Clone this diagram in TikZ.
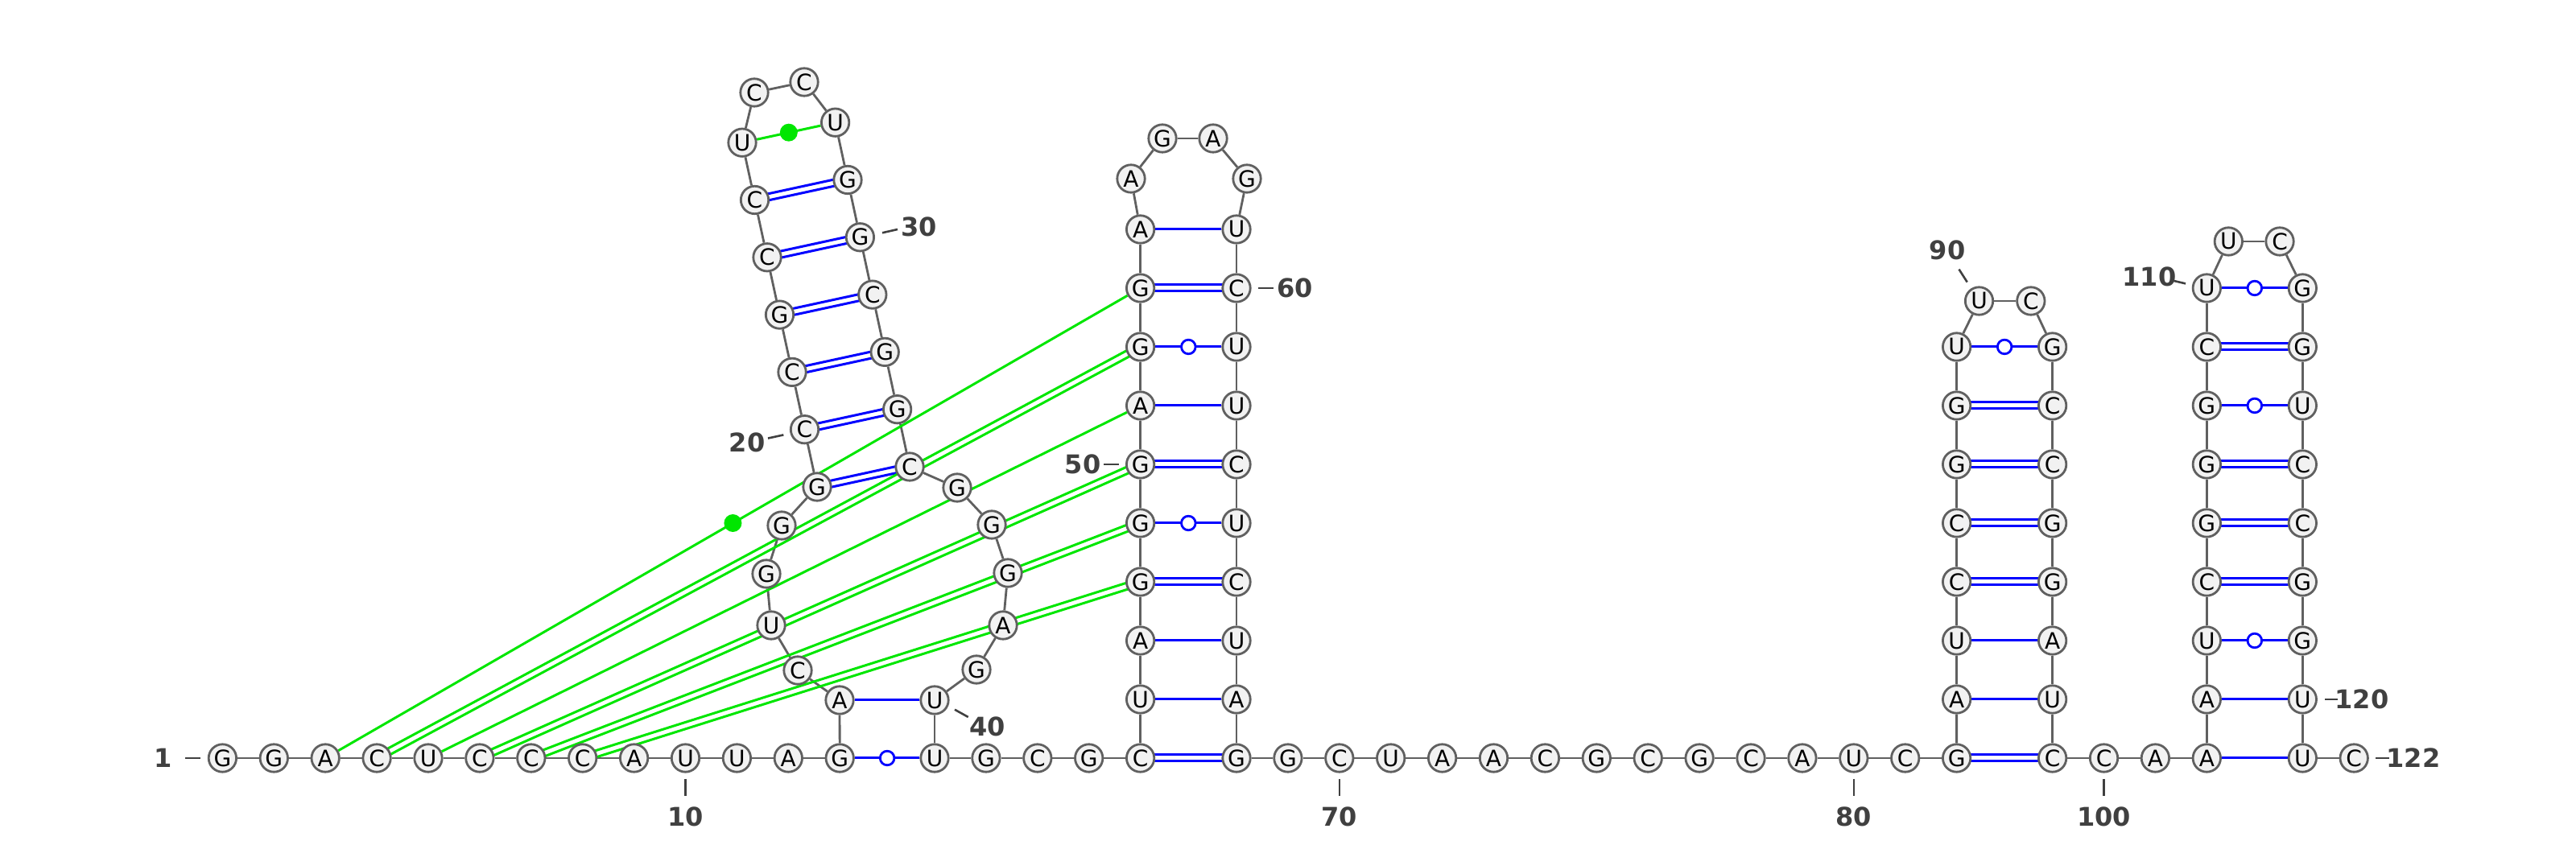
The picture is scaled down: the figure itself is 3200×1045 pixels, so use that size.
\documentclass[tikz,border=0pt]{standalone}
\usepackage{fontspec}
\setmainfont{DejaVu Sans}
\usetikzlibrary{calc,backgrounds}
\definecolor{ntfill}{HTML}{F2F2F2}
\definecolor{ntline}{HTML}{606060}
\definecolor{lbl}{HTML}{404040}
\definecolor{pkgreen}{RGB}{0,230,0}
\tikzset{
  nt/.style={circle, draw=ntline, line width=.7pt, fill=ntfill, minimum size=8.6pt,
    inner sep=0pt, font=\fontsize{7}{7}\selectfont},
  bb/.style={draw=ntline, line width=.7pt},
  bp/.style={blue, line width=.75pt},
  pk/.style={pkgreen, line width=.75pt},
  wob/.style={circle, draw=blue, fill=white, line width=.7pt, minimum size=4.4pt, inner sep=0pt},
  pkdot/.style={circle, fill=pkgreen, minimum size=5.5pt, inner sep=0pt},
  num/.style={text=lbl, font=\fontsize{8}{9}\selectfont\bfseries, inner sep=0pt},
  lead/.style={draw=lbl, line width=.65pt}
}
\begin{document}
\begin{tikzpicture}[x=.25pt, y=-.25pt]
\useasboundingbox (0,0) rectangle (3200,1045);
% 5' strand
\foreach \i/\b in {1/G,2/G,3/A,4/C,5/U,6/C,7/C,8/C,9/A,10/U,11/U,12/A,13/G}
  \node[nt] (n\i) at ({276.4+63.9*(\i-1)},942) {\b};
% first domain
\foreach \i/\b/\x/\y in {14/A/1043/870,15/C/991/833,16/U/958/777,17/G/952/713,18/G/971/653}
  \node[nt] (n\i) at (\x,\y) {\b};
\foreach \i/\b in {19/G,20/C,21/C,22/G,23/C,24/C,25/U}
  \node[nt] (n\i) at ({1015-15.5*(\i-19)},{605-71.3*(\i-19)}) {\b};
\node[nt] (n26) at (937,115) {C};
\node[nt] (n27) at (999,102) {C};
\foreach \i/\b in {28/U,29/G,30/G,31/C,32/G,33/G,34/C}
  \node[nt] (n\i) at ({1130-15.4*(34-\i)},{580-71.3*(34-\i)}) {\b};
\foreach \i/\b/\x/\y in {35/G/1189/606,36/G/1232/652,37/G/1252/712,38/A/1246/777,39/G/1213/832,40/U/1161/870}
  \node[nt] (n\i) at (\x,\y) {\b};
\foreach \i/\b in {41/U,42/G,43/C,44/G,45/C}
  \node[nt] (n\i) at ({1161+63.9*(\i-41)},942) {\b};
% second hairpin
\foreach \i/\b in {46/U,47/A,48/G,49/G,50/G,51/A,52/G,53/G,54/A}
  \node[nt] (n\i) at (1416.6,{942-73*(\i-45)}) {\b};
\foreach \i/\b/\x/\y in {55/A/1405/222,56/G/1444/172,57/A/1507/172,58/G/1549/222}
  \node[nt] (n\i) at (\x,\y) {\b};
\foreach \i/\b in {59/U,60/C,61/U,62/U,63/C,64/U,65/C,66/U,67/A}
  \node[nt] (n\i) at (1536,{942-73*(68-\i)}) {\b};
\foreach \i/\b in {68/G,69/G,70/C,71/U,72/A,73/A,74/C,75/G,76/C,77/G,78/C,79/A,80/U,81/C,82/G}
  \node[nt] (n\i) at ({1536+63.9*(\i-68)},942) {\b};
% third hairpin
\foreach \i/\b in {83/A,84/U,85/C,86/C,87/G,88/G,89/U}
  \node[nt] (n\i) at (2430.6,{942-73*(\i-82)}) {\b};
\node[nt] (n90) at (2458.5,374) {U};
\node[nt] (n91) at (2522.8,374) {C};
\foreach \i/\b in {92/G,93/C,94/C,95/G,96/G,97/A,98/U}
  \node[nt] (n\i) at (2549.6,{942-73*(99-\i)}) {\b};
\foreach \i/\b in {99/C,100/C,101/A,102/A}
  \node[nt] (n\i) at ({2549.6+63.9*(\i-99)},942) {\b};
% fourth hairpin
\foreach \i/\b in {103/A,104/U,105/C,106/G,107/G,108/G,109/C,110/U}
  \node[nt] (n\i) at (2741.3,{942-73*(\i-102)}) {\b};
\node[nt] (n111) at (2768.3,300) {U};
\node[nt] (n112) at (2832,300) {C};
\foreach \i/\b in {113/G,114/G,115/U,116/C,117/C,118/G,119/G,120/U,121/U}
  \node[nt] (n\i) at (2860.3,{942-73*(121-\i)}) {\b};
\node[nt] (n122) at (2924.2,942) {C};

\begin{scope}[on background layer]
% backbone
\foreach \i [evaluate=\i as \j using int(\i+1)] in {1,...,121}
  \draw[bb] (n\i) -- (n\j);
% pairs
\foreach \a/\b in {14/40,46/67,47/66,51/62,54/59,83/98,84/97,102/121,103/120}
  \draw[bp] (n\a) -- (n\b);
\foreach \a/\b in {19/34,20/33,21/32,22/31,23/30,24/29,45/68,48/65,50/63,53/60,82/99,85/96,86/95,87/94,88/93,105/118,106/117,107/116,109/114}{
  \draw[bp] ($(n\a)!1pt!90:(n\b)$) -- ($(n\b)!1pt!-90:(n\a)$);
  \draw[bp] ($(n\a)!1pt!-90:(n\b)$) -- ($(n\b)!1pt!90:(n\a)$);
}
\foreach \a/\b in {13/41,49/64,52/61,89/92,104/119,108/115,110/113}
  \draw[bp] (n\a) -- (n\b) node[midway, wob] {};
% pseudoknot
\draw[pk] (n5) -- (n51);
\foreach \a/\b in {4/52,6/50,7/49,8/48}{
  \draw[pk] ($(n\a)!1pt!90:(n\b)$) -- ($(n\b)!1pt!-90:(n\a)$);
  \draw[pk] ($(n\a)!1pt!-90:(n\b)$) -- ($(n\b)!1pt!90:(n\a)$);
}
\foreach \a/\b in {3/53,25/28}
  \draw[pk] (n\a) -- (n\b) node[midway, pkdot] {};
\end{scope}

% numbering
\node[num] (l1) at (203,942) {1};
\draw[lead] (230,942) -- (249,942);
\foreach \i in {10,70,80,100}{
  \draw[lead] ($(n\i)+(0,26)$) -- ++(0,21);
  \node[num] (l\i) at ($(n\i)+(0,73)$) {\i};
}
\node[num] (l20) at (928,550) {20};
\draw[lead] (954,544.6) -- (973.3,540.4);
\node[num] (l30) at (1141.7,281.4) {30};
\draw[lead] (1096,289.3) -- (1115,285);
\node[num] (l40) at (1226.7,903.3) {40};
\draw[lead] (1186,881.7) -- (1202.7,891);
\node[num] (l50) at (1345,577) {50};
\draw[lead] (1371,577) -- (1390,577);
\node[num] (l60) at (1608.5,358) {60};
\draw[lead] (1563,358) -- (1582,358);
\node[num] (l90) at (2419,311) {90};
\draw[lead] (2433.5,334.6) -- (2443.7,350.6);
\node[num] (l110) at (2670,343.5) {110};
\draw[lead] (2698,348.4) -- (2715,352.4);
\node[num] (l120) at (2934,869) {120};
\draw[lead] (2888,869) -- (2903.6,869);
\node[num] (l122) at (2998,942) {122};
\draw[lead] (2951,942) -- (2968,942);
\end{tikzpicture}
\end{document}
